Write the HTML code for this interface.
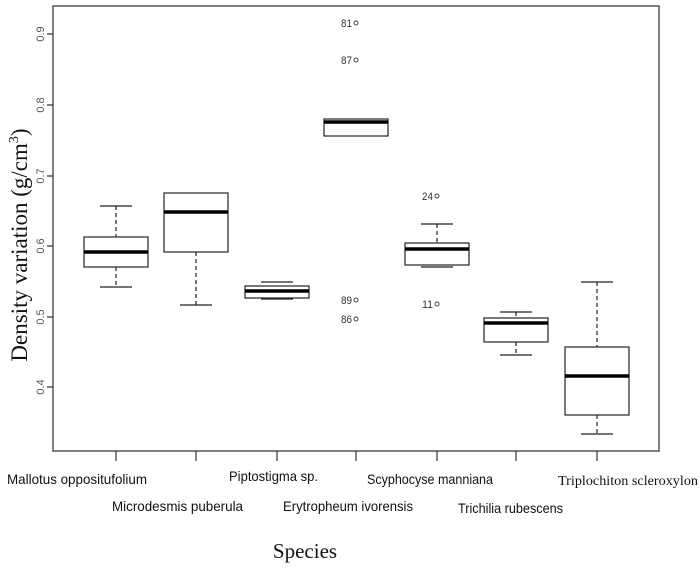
<!DOCTYPE html>
<html><head><style>
html,body{margin:0;padding:0;background:#fff;}
svg{display:block;}
.n{font-family:"Liberation Sans",sans-serif;}
</style></head><body>
<svg width="700" height="585" viewBox="0 0 700 585" xmlns="http://www.w3.org/2000/svg">
<g fill="none" stroke="#333" stroke-width="1.2">
<rect x="53" y="6" width="606" height="445" stroke="#555" stroke-width="1.5"/>
<path d="M47 34H53M47 105H53M47 176H53M47 246H53M47 317H53M47 387H53"/>
<path d="M116 451V461M196 451V461M277 451V461M356 451V461M437 451V461M516 451V461M597 451V461"/>
</g>
<g fill="#fff" stroke="#222" stroke-width="1.2">
<path d="M116 206V237M116 267V287" stroke-dasharray="4,3"/>
<path d="M100 206H132M100 287H132"/>
<rect x="84" y="237" width="64" height="30"/>
<path d="M196 252V305" stroke-dasharray="4,3"/>
<path d="M180 305H212"/>
<rect x="164" y="193" width="64" height="59"/>
<path d="M261 282H293M261 299H293"/>
<rect x="245" y="286" width="64" height="12"/>
<rect x="324" y="119" width="64" height="17"/>
<path d="M437 224V243" stroke-dasharray="4,3"/>
<path d="M421 224H453M421 267H453"/>
<rect x="405" y="243" width="64" height="22"/>
<path d="M516 312V318M516 342V355" stroke-dasharray="4,3"/>
<path d="M500 312H532M500 355H532"/>
<rect x="484" y="318" width="64" height="24"/>
<path d="M597 282V347M597 415V434" stroke-dasharray="4,3"/>
<path d="M581 282H613M581 434H613"/>
<rect x="565" y="347" width="64" height="68"/>
</g>
<g stroke="#000" stroke-width="3.5">
<path d="M84 252H148M164 212H228M245 291H309M324 122H388M405 249H469M484 323H548M565 376H629"/>
</g>
<g fill="none" stroke="#444" stroke-width="1">
<circle cx="356" cy="23" r="2"/><circle cx="356" cy="60" r="2"/>
<circle cx="356" cy="300" r="2"/><circle cx="356" cy="319" r="2"/>
<circle cx="437" cy="196" r="2"/><circle cx="437" cy="304" r="2"/>
</g>
<g class="n" font-size="11" fill="#333" text-anchor="end">
<text x="352" y="27" textLength="11" lengthAdjust="spacingAndGlyphs">81</text><text x="352" y="64" textLength="11" lengthAdjust="spacingAndGlyphs">87</text>
<text x="352" y="304" textLength="11" lengthAdjust="spacingAndGlyphs">89</text><text x="352" y="323" textLength="11" lengthAdjust="spacingAndGlyphs">86</text>
<text x="433" y="200" textLength="11" lengthAdjust="spacingAndGlyphs">24</text><text x="433" y="308" textLength="11" lengthAdjust="spacingAndGlyphs">11</text>
</g>
<g font-family="Liberation Sans,sans-serif" font-size="11" fill="#555" text-anchor="middle">
<text transform="translate(44,34) rotate(-90)">0.9</text>
<text transform="translate(44,105) rotate(-90)">0.8</text>
<text transform="translate(44,176) rotate(-90)">0.7</text>
<text transform="translate(44,246) rotate(-90)">0.6</text>
<text transform="translate(44,317) rotate(-90)">0.5</text>
<text transform="translate(44,387) rotate(-90)">0.4</text>
</g>
<text transform="translate(27,245) rotate(-90)" font-family="Liberation Serif,serif" font-size="23" text-anchor="middle" fill="#111">Density variation (g/cm<tspan font-size="14" dy="-9">3</tspan><tspan dy="9">)</tspan></text>
<g class="n" font-size="14" fill="#111">
<text x="7" y="484" textLength="140" lengthAdjust="spacingAndGlyphs">Mallotus oppositufolium</text>
<text x="112" y="511" textLength="131" lengthAdjust="spacingAndGlyphs">Microdesmis  puberula</text>
<text x="229" y="481" textLength="89" lengthAdjust="spacingAndGlyphs">Piptostigma sp.</text>
<text x="283" y="511" textLength="130" lengthAdjust="spacingAndGlyphs">Erytropheum ivorensis</text>
<text x="367" y="484" textLength="126" lengthAdjust="spacingAndGlyphs">Scyphocyse manniana</text>
<text x="458" y="513" textLength="105" lengthAdjust="spacingAndGlyphs">Trichilia rubescens</text>
</g>
<text x="558" y="485" font-family="Liberation Serif,serif" font-size="14" fill="#111" textLength="140" lengthAdjust="spacingAndGlyphs">Triplochiton  scleroxylon</text>
<text x="305" y="558" font-family="Liberation Serif,serif" font-size="21" fill="#111" text-anchor="middle">Species</text>
</svg>
</body></html>
